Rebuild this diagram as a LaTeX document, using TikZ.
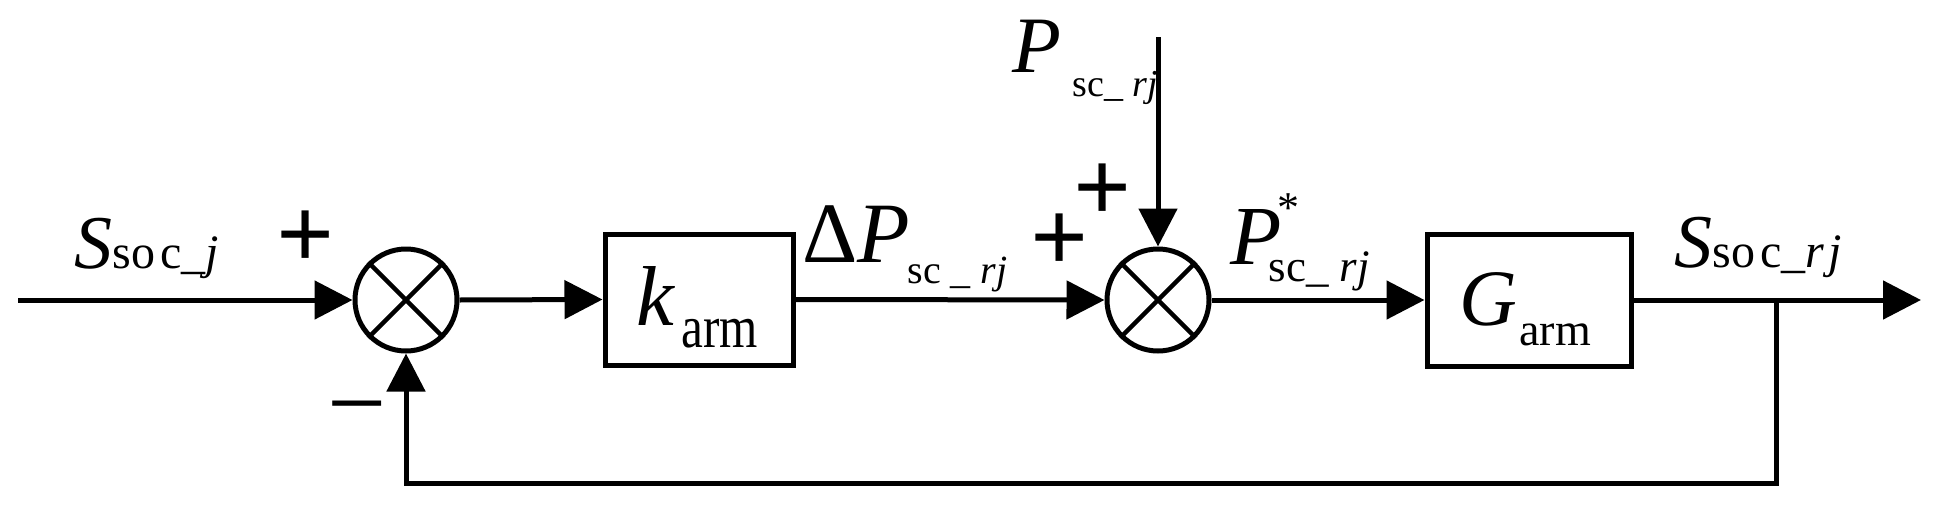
\documentclass[tikz,border=0pt]{standalone}
\usepackage{fontspec}
\setmainfont{Liberation Serif}
\newfontfamily\narrowserif[FakeStretch=0.82]{Liberation Serif}
\usetikzlibrary{arrows.meta}
\begin{document}
\begin{tikzpicture}[x=1pt,y=-1pt, line width=5pt,
  sig/.style={-{Triangle[length=38pt,width=38pt]}},
  sumnode/.style={draw, circle, minimum size=102pt, inner sep=0pt},
  blk/.style={draw, rectangle, inner sep=0pt},
  lbl/.style={inner sep=0pt, anchor=base west},
  sgn/.style={inner sep=0pt, anchor=base, font=\fontsize{102}{102}\selectfont\bfseries},
  neg/.style={inner sep=0pt, anchor=base, font=\fontsize{105}{105}\selectfont}
]
\useasboundingbox (0,0) rectangle (1935,514);
% blocks
\coordinate (in) at (18,300);
\node[sumnode] (s1) at (406,300) {};
\node[blk, minimum width=188pt, minimum height=131pt] (k) at (699,299.5) {};
\node[sumnode] (s2) at (1158,300) {};
\node[blk, minimum width=204pt, minimum height=132pt] (g) at (1529,300) {};
\coordinate (out) at (1921,300);
\coordinate (br) at (1776,300);
\coordinate (fb) at (1776,483);
\coordinate (fb2) at (406,483);
\coordinate (top) at (1158,37);
% crosses
\draw[line width=4.5pt] (s1.45) -- (s1.225) (s1.135) -- (s1.315);
\draw[line width=4.5pt] (s2.45) -- (s2.225) (s2.135) -- (s2.315);
% connectors
\draw[sig] (in) -- (s1.west);
\draw[sig] (s1.east) -- (k.west);
\draw[sig] (k.east) -- (s2.west);
\draw[sig] (top) -- (s2.north);
\draw[sig] (s2.east) -- (g.west);
\draw[sig] (g.east) -- (out);
\draw[sig] (br) -- (fb) -- (fb2) -- (s1.south);
% labels
\node[lbl] (lsj) at (72,268) {\fontsize{76}{76}\selectfont\itshape S\upshape\fontsize{48}{48}\selectfont so\kern5pt c\itshape\_j};
\node[lbl] (lk) at (634,325) {\fontsize{85}{85}\selectfont\itshape k};
\node[lbl] (lka) at (679,347) {\narrowserif\fontsize{60}{60}\selectfont arm};
\node[lbl] (ldp) at (800,262) {\fontsize{86}{86}\selectfont Δ\itshape P};
\node[lbl] (ldps) at (905,283) {\fontsize{40}{40}\selectfont sc \_ \itshape rj};
\node[lbl] (lp) at (1010,72) {\fontsize{80}{80}\selectfont\itshape P};
\node[lbl] (lps) at (1070,96) {\fontsize{38}{38}\selectfont sc\_ \itshape rj};
\node[lbl] (lpst) at (1228,264) {\fontsize{84}{84}\selectfont\itshape P};
\node[lbl] (lpstar) at (1275,222) {\fontsize{44}{44}\selectfont *};
\node[lbl] (lpsts) at (1266,281) {\fontsize{45}{45}\selectfont sc\_ \itshape rj};
\node[lbl] (lg) at (1457,325) {\fontsize{80}{80}\selectfont\itshape G};
\node[lbl] (lga) at (1517,345) {\fontsize{46}{46}\selectfont arm};
\node[lbl] (lsr) at (1672,267) {\fontsize{76}{76}\selectfont\itshape S\upshape\fontsize{48}{48}\selectfont so\kern5pt c\itshape\_r\kern4pt j};
% signs
\node[sgn] (p1) at (306,268.3) {+};
\node[sgn] (p2) at (1060,271.8) {+};
\node[sgn] (p3) at (1103,221.8) {+};
\node[neg] (m1) at (357,438.6) {−};
\end{tikzpicture}
\end{document}
